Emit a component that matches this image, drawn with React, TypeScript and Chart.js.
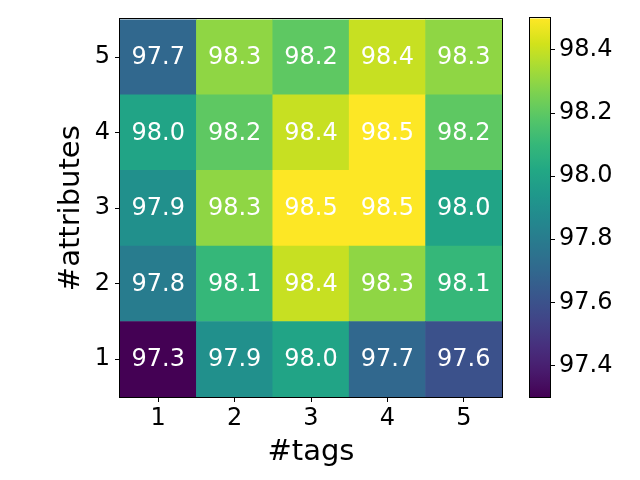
import React, { useEffect, useRef } from "react";
import { Chart, registerables } from "chart.js";

Chart.register(...registerables);

// ---- data ----
const tagLabels = ["1", "2", "3", "4", "5"];
const attributeLabels = ["1", "2", "3", "4", "5"];
const attr1 = [97.3, 97.9, 98.0, 97.7, 97.6];
const attr2 = [97.8, 98.1, 98.4, 98.3, 98.1];
const attr3 = [97.9, 98.3, 98.5, 98.5, 98.0];
const attr4 = [98.0, 98.2, 98.4, 98.5, 98.2];
const attr5 = [97.7, 98.3, 98.2, 98.4, 98.3];
const rows = [attr1, attr2, attr3, attr4, attr5];
const colorbarTicks = [97.4, 97.6, 97.8, 98.0, 98.2, 98.4];
const vMin = 97.3;
const vMax = 98.5;

// ---- viridis colormap ----
const VIRIDIS = [
  "#440154", "#481a6c", "#472f7d", "#414487", "#39568c", "#31688e",
  "#2a788e", "#23888e", "#1f988b", "#22a884", "#35b779", "#54c568",
  "#7ad151", "#a5db36", "#d2e21b", "#fde725",
];
function hexToRgb(h: string) {
  return [parseInt(h.slice(1, 3), 16), parseInt(h.slice(3, 5), 16), parseInt(h.slice(5, 7), 16)];
}
function viridis(t: number) {
  t = Math.max(0, Math.min(1, t));
  const p = t * (VIRIDIS.length - 1);
  const i = Math.min(VIRIDIS.length - 2, Math.floor(p));
  const f = p - i;
  const a = hexToRgb(VIRIDIS[i]);
  const b = hexToRgb(VIRIDIS[i + 1]);
  const c = a.map((v, k) => Math.round(v + (b[k] - v) * f));
  return `rgb(${c[0]},${c[1]},${c[2]})`;
}
const colorFor = (v: number) => viridis((v - vMin) / (vMax - vMin));

const FONT = "'DejaVu Sans', sans-serif";

const borderPlugin = {
  id: "frameBorder",
  afterDraw(chart: any) {
    const { ctx, chartArea } = chart;
    ctx.save();
    ctx.strokeStyle = "#000";
    ctx.lineWidth = 1;
    ctx.strokeRect(
      Math.round(chartArea.left) - 0.5,
      Math.round(chartArea.top) - 0.5,
      Math.round(chartArea.right - chartArea.left) + 1,
      Math.round(chartArea.bottom - chartArea.top) + 1
    );
    ctx.restore();
  },
};

const cellLabelPlugin = {
  id: "cellLabels",
  afterDatasetsDraw(chart: any) {
    const { ctx } = chart;
    ctx.save();
    ctx.fillStyle = "#fff";
    ctx.font = `24px ${FONT}`;
    ctx.textAlign = "center";
    ctx.textBaseline = "middle";
    chart.data.datasets.forEach((ds: any, i: number) => {
      const meta = chart.getDatasetMeta(i);
      meta.data.forEach((el: any, j: number) => {
        const { x, y } = el.getCenterPoint();
        ctx.fillText(ds.values[j].toFixed(1), x, y + 1);
      });
    });
    ctx.restore();
  },
};

export default function App() {
  const mainRef = useRef<HTMLCanvasElement>(null);
  const barRef = useRef<HTMLCanvasElement>(null);

  useEffect(() => {
    Chart.defaults.font.family = FONT;
    Chart.defaults.color = "#000";

    const datasets = rows.map((vals, i) => ({
      label: `attr ${attributeLabels[i]}`,
      data: tagLabels.map(() => [i + 0.5, i + 1.5]),
      values: vals,
      backgroundColor: vals.map(colorFor),
      borderWidth: 0,
      barPercentage: 1,
      categoryPercentage: 1,
      grouped: false,
    }));

    const main = new Chart(mainRef.current!, {
      type: "bar",
      data: { labels: tagLabels, datasets: datasets as any },
      options: {
        responsive: false,
        animation: false,
        layout: { padding: { left: 0, top: 15, right: 138, bottom: 0 } },
        plugins: { legend: { display: false }, tooltip: { enabled: false } },
        scales: {
          x: {
            type: "category",
            offset: true,
            grid: { offset: false, drawOnChartArea: false, color: "#000", tickLength: 5 },
            border: { display: false },
            ticks: { font: { size: 24 }, padding: 2, color: "#000" },
            title: { display: true, text: "#tags", font: { size: 29 }, padding: { top: 0, bottom: 10 }, color: "#000" },
            afterFit: (s: any) => { s.height = 83; },
          },
          y: {
            type: "linear",
            min: 0.5,
            max: 5.5,
            grid: { drawOnChartArea: false, color: "#000", tickLength: 5 },
            border: { display: false },
            afterBuildTicks: (s: any) => {
              s.ticks = attributeLabels.map((_, i) => ({ value: i + 1 }));
            },
            ticks: {
              font: { size: 24 },
              padding: 5,
              color: "#000",
              callback: (v: any) => attributeLabels[Math.round(Number(v)) - 1],
            },
            title: { display: true, text: "#attributes", font: { size: 29 }, padding: { top: 54, bottom: 0 }, color: "#000" },
            afterFit: (s: any) => { s.width = 120; },
          },
        },
      },
      plugins: [cellLabelPlugin, borderPlugin],
    } as any);

    const cbar = new Chart(barRef.current!, {
      type: "bar",
      data: {
        labels: ["colorbar"],
        datasets: [
          {
            data: [[vMin, vMax]],
            borderWidth: 0,
            barPercentage: 1,
            categoryPercentage: 1,
            backgroundColor: (context: any) => {
              const chart = context.chart;
              const { chartArea, scales } = chart;
              if (!chartArea || !scales.y) return "#888";
              const y0 = scales.y.getPixelForValue(vMin);
              const y1 = scales.y.getPixelForValue(vMax);
              const g = chart.ctx.createLinearGradient(0, y0, 0, y1);
              for (let k = 0; k <= 30; k++) {
                const t = k / 30;
                g.addColorStop(t, viridis(t));
              }
              return g;
            },
          },
        ],
      },
      options: {
        responsive: false,
        animation: false,
        layout: { padding: { left: 530, top: 15, right: 0, bottom: 83 } },
        plugins: { legend: { display: false }, tooltip: { enabled: false } },
        scales: {
          x: { display: false },
          y: {
            type: "linear",
            position: "right",
            min: vMin,
            max: vMax,
            grid: { drawOnChartArea: false, color: "#000", tickLength: 5 },
            border: { display: false },
            afterBuildTicks: (s: any) => {
              s.ticks = colorbarTicks.map((v) => ({ value: v }));
            },
            ticks: {
              font: { size: 24 },
              padding: 4,
              color: "#000",
              callback: (v: any) => Number(v).toFixed(1),
            },
            afterFit: (s: any) => { s.width = 90; },
          },
        },
      },
      plugins: [borderPlugin],
    } as any);

    return () => {
      main.destroy();
      cbar.destroy();
    };
  }, []);

  return (
    <div style={{ position: "fixed", left: 0, top: 0, width: 640, height: 480, background: "#fff" }}>
      <canvas ref={mainRef} width={640} height={480} style={{ position: "absolute", left: 0, top: 0 }} />
      <canvas ref={barRef} width={640} height={480} style={{ position: "absolute", left: 0, top: 0 }} />
    </div>
  );
}
